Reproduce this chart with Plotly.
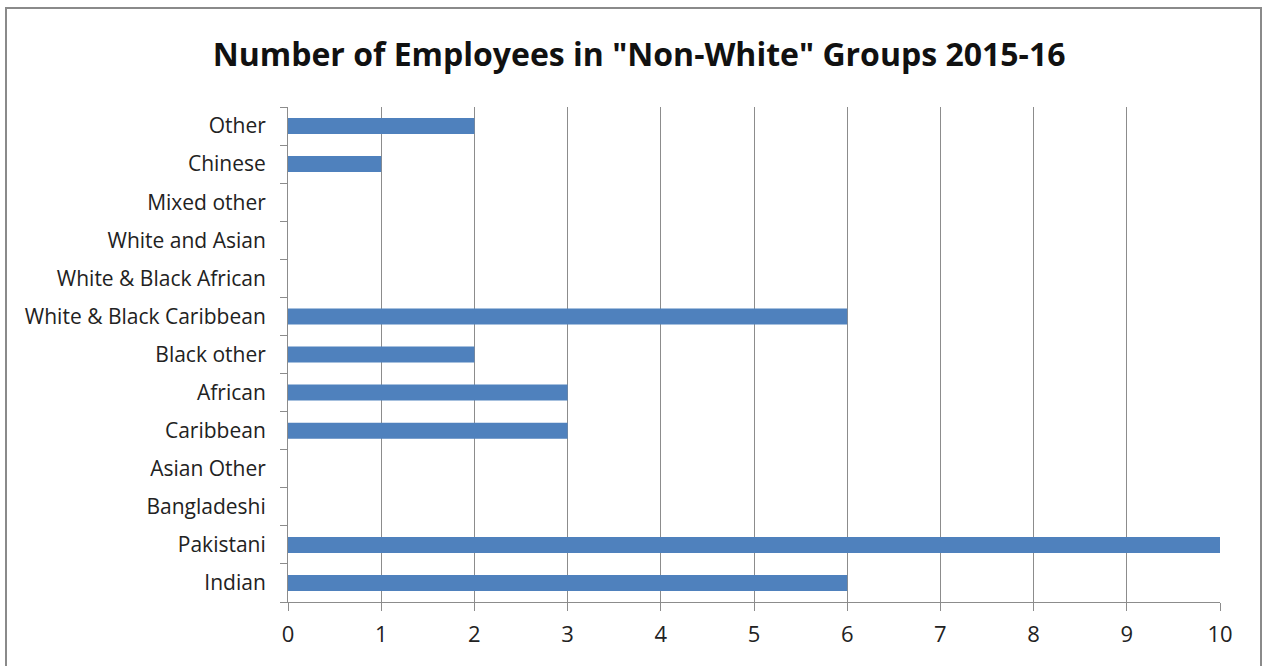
import plotly.graph_objects as go

categories = ["Indian", "Pakistani", "Bangladeshi", "Asian Other", "Caribbean", "African",
              "Black other", "White & Black Caribbean", "White & Black African",
              "White and Asian", "Mixed other", "Chinese", "Other"]
values = [6, 10, 0, 0, 3, 3, 2, 6, 0, 0, 0, 1, 2]
x_ticks = list(range(0, 11))
title = 'Number of Employees in "Non-White" Groups 2015-16'

FONT = "Open Sans"
GRAY = "#8c8c8c"

fig = go.Figure()
fig.add_trace(go.Bar(y=categories, x=values, orientation="h",
                     marker=dict(color="#4F81BD", line=dict(width=0)),
                     width=0.42, showlegend=False))
# invisible trace to activate overlay axis for category boundary ticks
fig.add_trace(go.Scatter(x=[0], y=[0], yaxis="y2", mode="markers",
                         marker=dict(opacity=0), showlegend=False, hoverinfo="skip"))

W, H = 1263, 666
L, R, T, B = 288, 43, 107, 64
pw, ph = W - L - R, H - T - B

fig.update_layout(
    width=W, height=H,
    margin=dict(l=L, r=R, t=T, b=B, autoexpand=False),
    paper_bgcolor="white", plot_bgcolor="white",
    font=dict(family=FONT, color="#222222"),
    title=dict(text="<b>" + title + "</b>", x=0.506, xanchor="center",
               y=1 - 55 / H, yanchor="middle",
               font=dict(family=FONT, size=32, color="#111111")),
    xaxis=dict(range=[0, 10], tickvals=x_ticks, showgrid=True, gridcolor=GRAY, gridwidth=1,
               showline=True, linecolor=GRAY, linewidth=1, ticks="outside", ticklen=8,
               tickcolor=GRAY, tickfont=dict(family=FONT, size=22, color="#222222"),
               ticklabelstandoff=5, zeroline=False, fixedrange=True, automargin=False),
    yaxis=dict(type="category", categoryorder="array", categoryarray=categories,
               range=[-0.5, len(categories) - 0.5], showgrid=False, showline=True,
               linecolor=GRAY, linewidth=1, ticks="", ticklabelstandoff=17,
               tickfont=dict(family=FONT, size=21, color="#222222"), automargin=False),
    yaxis2=dict(overlaying="y", side="left", range=[-0.5, len(categories) - 0.5],
                tickvals=[i + 0.5 for i in range(-1, len(categories))],
                ticktext=[""] * (len(categories) + 1), ticks="outside", ticklen=7,
                tickcolor=GRAY, showgrid=False, showline=False, zeroline=False,
                automargin=False),
    shapes=[dict(type="rect", xref="paper", yref="paper",
                 x0=(6 - L) / pw, x1=(1261 - L) / pw,
                 y0=(H - B - 700) / ph, y1=(H - B - 8) / ph,
                 line=dict(color="#8a8a8a", width=2), fillcolor="rgba(0,0,0,0)")],
)
fig.write_html("out.html", config={"displayModeBar": False},
               post_script="document.body.style.margin='0';")
